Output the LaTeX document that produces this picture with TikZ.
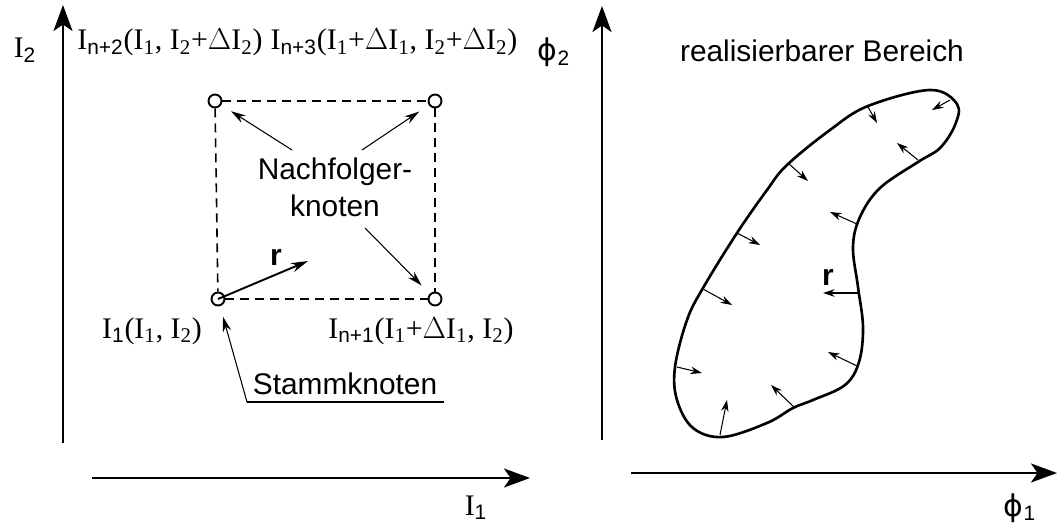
\documentclass[tikz,border=0pt]{standalone}
\usepackage{fontspec}
\setmainfont{Liberation Serif}
\setsansfont{Liberation Sans}
\newfontfamily\phifont{DejaVu Sans}
\usetikzlibrary{arrows.meta,calc}
\tikzset{
  achse/.style={-{Stealth[length=5.2mm,width=3.8mm,inset=1.3mm]}, line width=1.5pt},
  knoten/.style={circle, draw, line width=1.1pt, inner sep=0pt, minimum size=0.26cm},
  netz/.style={dash pattern=on 0.18cm off 0.12cm, line width=0.9pt},
  zeiger/.style={-{Stealth[length=3mm,width=1.7mm]}, line width=0.6pt, shorten >=2.3mm},
  rpfeil/.style={-{Stealth[length=3.4mm,width=1.9mm]}, line width=1.1pt},
  normale/.style={-{Stealth[length=2.3mm,width=1.5mm]}, line width=0.6pt},
  serif/.style={font=\fontsize{17}{20}\selectfont\rmfamily, inner sep=0pt, anchor=base},
  sans/.style={font=\fontsize{17}{20}\selectfont\sffamily, inner sep=0pt, anchor=base, align=center}
}
\newcommand{\ssub}[1]{\textsubscript{\sffamily #1}}
\newcommand{\rsub}[1]{\textsubscript{#1}}

\begin{document}
\begin{tikzpicture}[x=0.02cm, y=-0.02cm]
  \useasboundingbox (0,0) rectangle (1059,527);
  % linkes Diagramm
  \draw[achse] (63,443) -- (63,5);
  \draw[achse] (92,478) -- (530,478);
  \node[serif] (iz) at (25,58) {I\ssub{2}};
  \node[serif] (ie) at (476,515) {I\ssub{1}};

  \node[knoten] (stamm) at (218,299) {};
  \node[knoten] (nf1) at (435,299) {};
  \node[knoten] (nf2) at (215,101) {};
  \node[knoten] (nf3) at (435,101) {};
  \draw[netz] (nf2) -- (nf3);
  \draw[netz] (stamm) -- (nf1);
  \draw[netz] (nf2) -- (stamm);
  \draw[netz] (nf3) -- (nf1);

  \node[serif] (l2) at (170,50) {I\ssub{n+2}(I\rsub{1}, I\rsub{2}+$\Delta$I\rsub{2})};
  \node[serif] (l3) at (394,50) {I\ssub{n+3}(I\rsub{1}+$\Delta$I\rsub{1}, I\rsub{2}+$\Delta$I\rsub{2})};
  \node[serif] (l0) at (152,338) {I\ssub{1}(I\rsub{1}, I\rsub{2})};
  \node[serif] (l1) at (421,338) {I\ssub{n+1}(I\rsub{1}+$\Delta$I\rsub{1}, I\rsub{2})};

  \node[sans] (nachf) at (335,216) {Nachfolger-\\[1pt]knoten};
  \coordinate (na) at (292,150);
  \coordinate (nb) at (362,150);
  \coordinate (nc) at (365,228);
  \draw[zeiger] (na) -- (nf2);
  \draw[zeiger] (nb) -- (nf3);
  \draw[zeiger] (nc) -- (nf1);

  \coordinate (rend) at (308,261);
  \draw[rpfeil] (stamm.center) -- (rend);
  \node[sans, font=\fontsize{17}{20}\selectfont\sffamily\bfseries] (rl) at (276,265) {r};

  \node[sans] (stammtxt) at (345,394) {Stammknoten};
  \coordinate (ul) at (247,402);
  \coordinate (ur) at (444,402);
  \draw[line width=0.6pt] (ur) -- (ul);
  \draw[zeiger, shorten >=2.2mm] (ul) -- (stamm);

  % rechtes Diagramm
  \draw[achse] (602,440) -- (602,6);
  \draw[achse] (631,473) -- (1057,473);
  \node[sans] (pz) at (554,61) {{\phifont ϕ}\ssub{2}};
  \node[sans] (pe) at (1020,516) {{\phifont ϕ}\ssub{1}};
  \node[sans] (bereich) at (822,62) {realisierbarer Bereich};

  \draw[line width=1.5pt] plot[smooth cycle, tension=0.6] coordinates {
    (930,90) (957,104) (955,125) (940,148) (918,162) (880,188) (860,217)
    (853,247) (858,287) (863,327) (859,362) (845,385) (813,400) (793,408)
    (767,423) (723,437) (693,428) (677,400) (675,367) (687,320) (703,288)
    (737,233) (767,190) (787,165) (830,130) (868,106)};

  \draw[normale] (950,100) -- (932,110);
  \draw[normale] (868,107) -- (877,123);
  \draw[normale] (918,160) -- (897,143);
  \draw[normale] (788,163) -- (808,181);
  \draw[normale] (857,224) -- (830,212);
  \draw[normale] (737,233) -- (760,245);
  \draw[normale] (860,293) -- (823,293);
  \draw[normale] (703,289) -- (732,305);
  \draw[normale] (857,366) -- (828,352);
  \draw[normale] (677,367) -- (702,373);
  \draw[normale] (795,408) -- (771,385);
  \draw[normale] (720,435) -- (727,400);
  \node[sans, font=\fontsize{17}{20}\selectfont\sffamily\bfseries] (rr) at (828,285) {r};
\end{tikzpicture}
\end{document}
